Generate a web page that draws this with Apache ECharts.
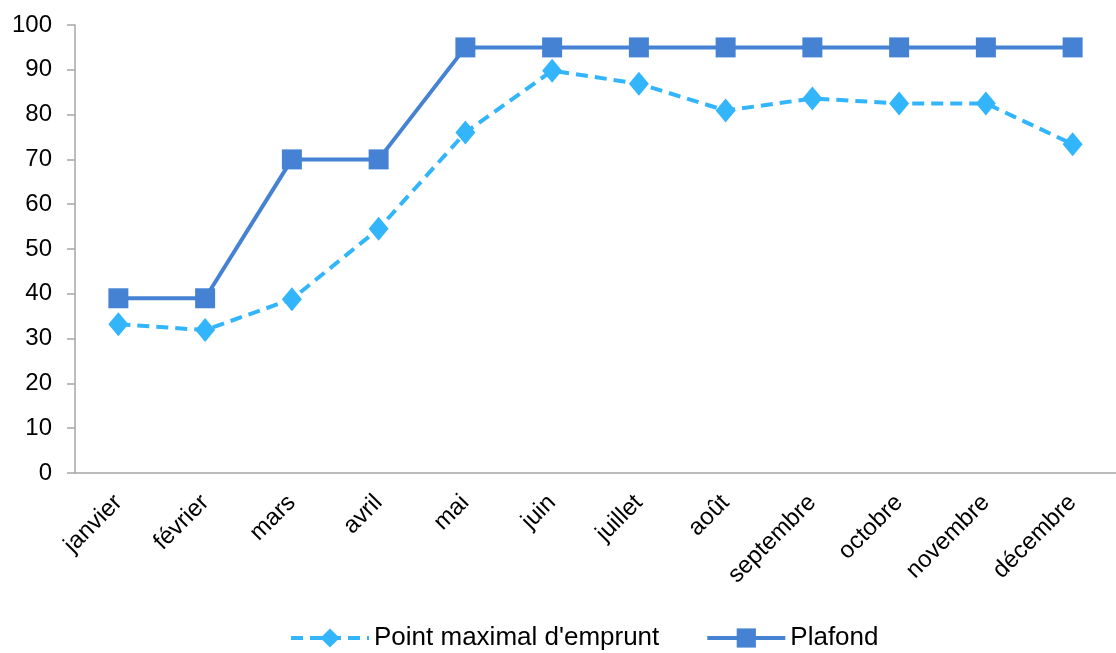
<!DOCTYPE html>
<html>
<head>
<meta charset="utf-8">
<script src="https://cdn.jsdelivr.net/npm/echarts@6/dist/echarts.min.js"></script>
<style>
  html, body { margin: 0; padding: 0; background: #fff; }
  #chart { width: 1116px; height: 653px; }
</style>
</head>
<body>
<div id="chart"></div>
<script>
const months = ['janvier', 'février', 'mars', 'avril', 'mai', 'juin',
  'juillet', 'août', 'septembre', 'octobre', 'novembre', 'décembre']
const pointMaximal = [33.2, 31.9, 38.8, 54.5, 76, 89.8, 86.9, 80.9, 83.6, 82.5, 82.5, 73.4]
const plafond = [39, 39, 70, 70, 95, 95, 95, 95, 95, 95, 95, 95]

const axisColor = '#a6a6a6'
const font = 'Liberation Sans, Arial, sans-serif'

const chart = echarts.init(document.getElementById('chart'))
chart.setOption({
  animation: false,
  grid: {
    left: 75,
    top: 25,
    width: 1053,
    bottom: 180,
    containLabel: false
  },
  legend: {
    top: 620,
    left: 284,
    itemWidth: 78,
    itemHeight: 24,
    itemGap: 46,
    lineStyle: { width: 4 },
    textStyle: { fontFamily: font, fontSize: 26, color: '#000' },
    data: ['Point maximal d\'emprunt', 'Plafond']
  },
  xAxis: {
    type: 'category',
    data: months,
    axisLine: { lineStyle: { color: axisColor, width: 1.5 } },
    axisTick: { length: 8, lineStyle: { color: axisColor, width: 1.5 } },
    axisLabel: {
      rotate: 45,
      margin: 26,
      fontFamily: font,
      fontSize: 24,
      color: '#000',
      interval: 0
    }
  },
  yAxis: {
    type: 'value',
    min: 0,
    max: 100,
    interval: 10,
    axisLine: { show: true, lineStyle: { color: axisColor, width: 1.5 } },
    axisTick: { show: true, length: 8, lineStyle: { color: axisColor, width: 1.5 } },
    splitLine: { show: false },
    axisLabel: {
      margin: 23,
      fontFamily: font,
      fontSize: 24,
      color: '#000'
    }
  },
  series: [
    {
      name: 'Point maximal d\'emprunt',
      type: 'line',
      data: pointMaximal,
      symbol: 'diamond',
      symbolSize: [20, 24],
      itemStyle: { color: '#33b5fc' },
      lineStyle: { color: '#33b5fc', width: 4, type: [12, 7] },
      z: 2
    },
    {
      name: 'Plafond',
      type: 'line',
      data: plafond,
      symbol: 'rect',
      symbolSize: 20,
      itemStyle: { color: '#4582d4' },
      lineStyle: { color: '#4582d4', width: 4 },
      z: 3
    }
  ]
})
</script>
</body>
</html>
